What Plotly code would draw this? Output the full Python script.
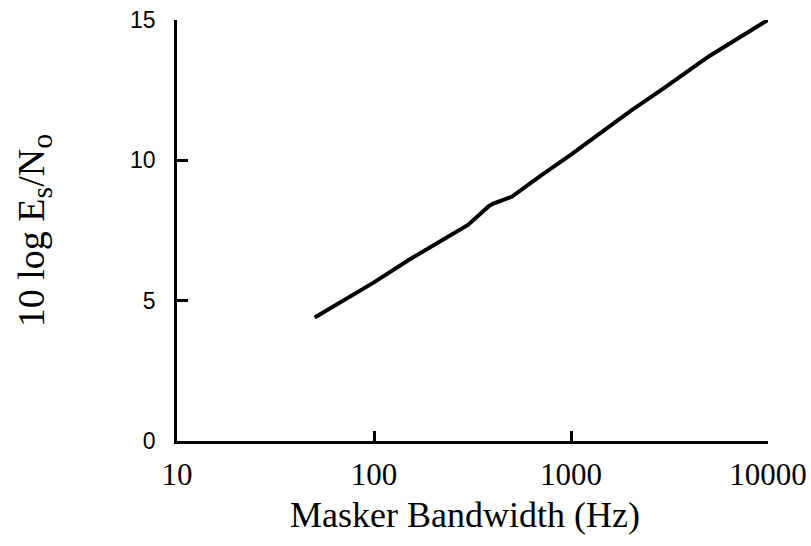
import plotly.graph_objects as go

# Masker bandwidth (Hz) and threshold 10 log Es/No (dB)
bandwidth_hz = [50, 80, 100, 150, 200, 280, 300, 380, 400, 500, 700, 1000, 2000, 3000, 5000, 10000]
es_no_db = [4.4, 5.25, 5.65, 6.45, 6.97, 7.55, 7.7, 8.35, 8.45, 8.7, 9.45, 10.2, 11.75, 12.6, 13.7, 15.0]

x_ticks = [10, 100, 1000, 10000]
x_tick_text = ["10", "100", "1000", "10000"]
y_ticks = [0, 5, 10, 15]
y_tick_text = ["0", "5", "10", "15"]

x_title = "Masker Bandwidth (Hz)"
y_title = ("10 log E<sub><span style='font-size:30px'>s</span></sub>"
           "/N<sub><span style='font-size:30px'>o</span></sub>")

serif = "Liberation Serif, Times New Roman, serif"
sans = "Liberation Sans, Arial, sans-serif"

fig = go.Figure()
fig.add_trace(go.Scatter(
    x=bandwidth_hz, y=es_no_db, mode="lines",
    line=dict(color="black", width=4),
    hoverinfo="skip", showlegend=False,
))

fig.update_layout(
    width=811, height=546,
    margin=dict(l=177, r=43, t=20, b=105, autoexpand=False),
    paper_bgcolor="white", plot_bgcolor="white",
    xaxis=dict(
        type="log", range=[1, 4], automargin=False,
        tickvals=x_ticks, ticktext=x_tick_text,
        ticks="inside", ticklen=10, tickwidth=2.5, tickcolor="black",
        showline=True, linecolor="black", linewidth=2.5,
        showgrid=False, zeroline=False,
        tickfont=dict(family=serif, size=31, color="black"),
        ticklabelstandoff=4,
    ),
    yaxis=dict(
        range=[0, 15], automargin=False,
        tickvals=y_ticks, ticktext=y_tick_text,
        ticks="inside", ticklen=11, tickwidth=2.5, tickcolor="black",
        showline=True, linecolor="black", linewidth=2.5,
        showgrid=False, zeroline=False,
        tickfont=dict(family=sans, size=23, color="black"),
        ticklabelstandoff=14,
        title=dict(text=y_title, standoff=74,
                   font=dict(family=serif, size=38, color="black")),
    ),
    annotations=[dict(
        text=x_title, xref="paper", yref="paper",
        x=0.487, y=-0.175, xanchor="center", yanchor="middle",
        showarrow=False, font=dict(family=serif, size=36, color="black"),
    )],
)

fig.write_html("out.html")
